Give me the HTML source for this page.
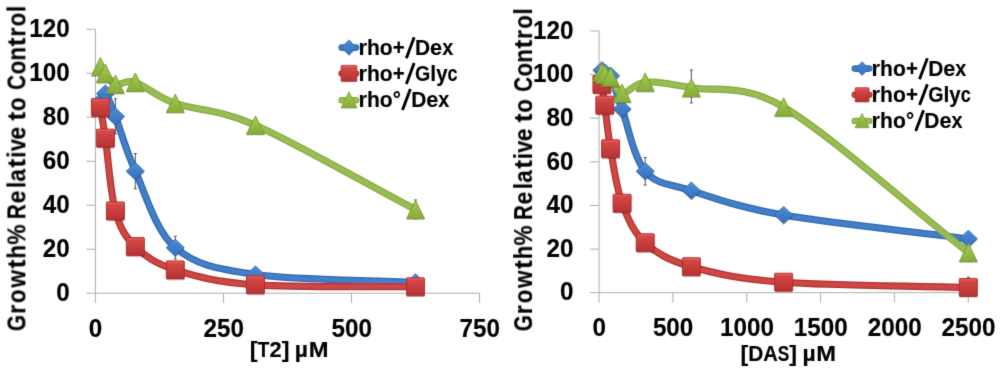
<!DOCTYPE html>
<html><head><meta charset="utf-8"><title>chart</title>
<style>
html,body{margin:0;padding:0;background:#fff;}
body{width:1000px;height:373px;overflow:hidden;}
svg{display:block;font-family:"Liberation Sans",sans-serif;}
text{stroke:#000;stroke-width:0.15px;}
</style></head><body>
<svg width="1000" height="373" viewBox="0 0 1000 373">
<defs>
<linearGradient id="gb" x1="0" y1="0" x2="0" y2="1"><stop offset="0" stop-color="#4a8ad6"/><stop offset="1" stop-color="#3570bb"/></linearGradient>
<linearGradient id="gr" x1="0" y1="0" x2="0" y2="1"><stop offset="0" stop-color="#da4b48"/><stop offset="1" stop-color="#b63131"/></linearGradient>
<linearGradient id="gg" x1="0" y1="0" x2="0" y2="1"><stop offset="0" stop-color="#a3cc52"/><stop offset="1" stop-color="#86ab38"/></linearGradient>
<filter id="soft" x="0" y="0" width="1000" height="373" filterUnits="userSpaceOnUse"><feConvolveMatrix order="5" kernelMatrix="0.00000 0.00003 0.00021 0.00003 0.00000 0.00003 0.01133 0.08373 0.01133 0.00003 0.00021 0.08373 0.61869 0.08373 0.00021 0.00003 0.01133 0.08373 0.01133 0.00003 0.00000 0.00003 0.00021 0.00003 0.00000" edgeMode="duplicate" preserveAlpha="false"/></filter>
</defs>
<rect width="1000" height="373" fill="#fff"/>
<g filter="url(#soft)">
<g stroke="#adadad" stroke-width="1" fill="none">
<path d="M95.40,29.30 V303.00"/>
<path d="M86.40,293.20 H479.55"/>
<path d="M86.40,249.22 H95.40"/>
<path d="M86.40,205.23 H95.40"/>
<path d="M86.40,161.25 H95.40"/>
<path d="M86.40,117.27 H95.40"/>
<path d="M86.40,73.28 H95.40"/>
<path d="M86.40,29.30 H95.40"/>
<path d="M223.45,293.20 V303.00"/>
<path d="M351.50,293.20 V303.00"/>
<path d="M479.55,293.20 V303.00"/>
</g>
<g transform="translate(69.80,300.90)" font-size="25.60" font-weight="bold"><text x="-13.49" y="0" textLength="13.49" lengthAdjust="spacingAndGlyphs">0</text></g>
<g transform="translate(69.80,256.92)" font-size="25.60" font-weight="bold"><text x="-26.97" y="0" textLength="13.49" lengthAdjust="spacingAndGlyphs">2</text><text x="-13.49" y="0" textLength="13.49" lengthAdjust="spacingAndGlyphs">0</text></g>
<g transform="translate(69.80,212.93)" font-size="25.60" font-weight="bold"><text x="-26.97" y="0" textLength="13.49" lengthAdjust="spacingAndGlyphs">4</text><text x="-13.49" y="0" textLength="13.49" lengthAdjust="spacingAndGlyphs">0</text></g>
<g transform="translate(69.80,168.95)" font-size="25.60" font-weight="bold"><text x="-26.97" y="0" textLength="13.49" lengthAdjust="spacingAndGlyphs">6</text><text x="-13.49" y="0" textLength="13.49" lengthAdjust="spacingAndGlyphs">0</text></g>
<g transform="translate(69.80,124.97)" font-size="25.60" font-weight="bold"><text x="-26.97" y="0" textLength="13.49" lengthAdjust="spacingAndGlyphs">8</text><text x="-13.49" y="0" textLength="13.49" lengthAdjust="spacingAndGlyphs">0</text></g>
<g transform="translate(69.80,80.98)" font-size="25.60" font-weight="bold"><text x="-40.46" y="0" textLength="13.49" lengthAdjust="spacingAndGlyphs">1</text><text x="-26.97" y="0" textLength="13.49" lengthAdjust="spacingAndGlyphs">0</text><text x="-13.49" y="0" textLength="13.49" lengthAdjust="spacingAndGlyphs">0</text></g>
<g transform="translate(69.80,37.00)" font-size="25.60" font-weight="bold"><text x="-40.46" y="0" textLength="13.49" lengthAdjust="spacingAndGlyphs">1</text><text x="-26.97" y="0" textLength="13.49" lengthAdjust="spacingAndGlyphs">2</text><text x="-13.49" y="0" textLength="13.49" lengthAdjust="spacingAndGlyphs">0</text></g>
<g transform="translate(95.60,336.50)" font-size="25.60" font-weight="bold"><text x="-6.74" y="0" textLength="13.49" lengthAdjust="spacingAndGlyphs">0</text></g>
<g transform="translate(223.65,336.50)" font-size="25.60" font-weight="bold"><text x="-20.23" y="0" textLength="13.49" lengthAdjust="spacingAndGlyphs">2</text><text x="-6.74" y="0" textLength="13.49" lengthAdjust="spacingAndGlyphs">5</text><text x="6.74" y="0" textLength="13.49" lengthAdjust="spacingAndGlyphs">0</text></g>
<g transform="translate(351.70,336.50)" font-size="25.60" font-weight="bold"><text x="-20.23" y="0" textLength="13.49" lengthAdjust="spacingAndGlyphs">5</text><text x="-6.74" y="0" textLength="13.49" lengthAdjust="spacingAndGlyphs">0</text><text x="6.74" y="0" textLength="13.49" lengthAdjust="spacingAndGlyphs">0</text></g>
<g transform="translate(479.75,336.50)" font-size="25.60" font-weight="bold"><text x="-20.23" y="0" textLength="13.49" lengthAdjust="spacingAndGlyphs">7</text><text x="-6.74" y="0" textLength="13.49" lengthAdjust="spacingAndGlyphs">5</text><text x="6.74" y="0" textLength="13.49" lengthAdjust="spacingAndGlyphs">0</text></g>
<g transform="translate(25.40,331.60) rotate(-90)" font-size="25.80" font-weight="bold"><text x="0.61" y="0" textLength="16.17" lengthAdjust="spacingAndGlyphs">G</text><text x="17.73" y="0" textLength="9.01" lengthAdjust="spacingAndGlyphs">r</text><text x="28.59" y="0" textLength="13.63" lengthAdjust="spacingAndGlyphs">o</text><text x="44.12" y="0" textLength="17.59" lengthAdjust="spacingAndGlyphs">w</text><text x="63.21" y="0" textLength="8.81" lengthAdjust="spacingAndGlyphs">t</text><text x="73.07" y="0" textLength="13.63" lengthAdjust="spacingAndGlyphs">h</text><text x="86.98" y="0" textLength="20.17" lengthAdjust="spacingAndGlyphs">%</text><text x="112.52" y="0" textLength="14.90" lengthAdjust="spacingAndGlyphs">R</text><text x="128.14" y="0" textLength="12.77" lengthAdjust="spacingAndGlyphs">e</text><text x="143.42" y="0" textLength="6.25" lengthAdjust="spacingAndGlyphs">l</text><text x="149.97" y="0" textLength="12.54" lengthAdjust="spacingAndGlyphs">a</text><text x="164.12" y="0" textLength="8.81" lengthAdjust="spacingAndGlyphs">t</text><text x="173.70" y="0" textLength="6.25" lengthAdjust="spacingAndGlyphs">i</text><text x="180.43" y="0" textLength="12.03" lengthAdjust="spacingAndGlyphs">v</text><text x="192.00" y="0" textLength="12.77" lengthAdjust="spacingAndGlyphs">e</text><text x="210.95" y="0" textLength="8.81" lengthAdjust="spacingAndGlyphs">t</text><text x="220.61" y="0" textLength="13.63" lengthAdjust="spacingAndGlyphs">o</text><text x="241.69" y="0" textLength="14.90" lengthAdjust="spacingAndGlyphs">C</text><text x="257.18" y="0" textLength="13.63" lengthAdjust="spacingAndGlyphs">o</text><text x="271.04" y="0" textLength="13.63" lengthAdjust="spacingAndGlyphs">n</text><text x="285.32" y="0" textLength="8.81" lengthAdjust="spacingAndGlyphs">t</text><text x="295.00" y="0" textLength="9.01" lengthAdjust="spacingAndGlyphs">r</text><text x="305.16" y="0" textLength="13.63" lengthAdjust="spacingAndGlyphs">o</text><text x="319.59" y="0" textLength="6.25" lengthAdjust="spacingAndGlyphs">l</text></g>
<g transform="translate(249.80,357.30)" font-size="21.60" font-weight="bold"><text x="0.00" y="0" textLength="7.80" lengthAdjust="spacingAndGlyphs">[</text><text x="7.80" y="0" textLength="11.88" lengthAdjust="spacingAndGlyphs">T</text><text x="19.68" y="0" textLength="12.17" lengthAdjust="spacingAndGlyphs">2</text><text x="31.85" y="0" textLength="7.80" lengthAdjust="spacingAndGlyphs">]</text><text x="45.07" y="0" textLength="13.20" lengthAdjust="spacingAndGlyphs">µ</text><text x="58.86" y="0" textLength="19.79" lengthAdjust="spacingAndGlyphs">M</text></g>
<path d="M100.40,101.87 C102.07,99.09 102.89,91.10 105.39,93.52 C107.88,95.93 110.88,104.75 115.38,116.39 C120.37,129.33 125.36,149.26 135.35,171.15 C145.34,193.03 155.28,230.45 175.30,247.68 C195.32,264.90 215.43,268.72 255.46,274.51 C295.50,280.30 362.17,279.79 415.52,282.42" fill="none" stroke="#3068ad" stroke-width="7.1" stroke-linecap="round" stroke-linejoin="round"/>
<path d="M100.40,101.87 C102.07,99.09 102.89,91.10 105.39,93.52 C107.88,95.93 110.88,104.75 115.38,116.39 C120.37,129.33 125.36,149.26 135.35,171.15 C145.34,193.03 155.28,230.45 175.30,247.68 C195.32,264.90 215.43,268.72 255.46,274.51 C295.50,280.30 362.17,279.79 415.52,282.42" fill="none" stroke="#437fc9" stroke-width="4.6" stroke-linecap="round" stroke-linejoin="round"/>
<path d="M115.38,98.79 V133.98 M113.88,98.79 H116.88 M113.88,133.98 H116.88" stroke="#404040" stroke-width="0.9" fill="none"/>
<path d="M135.35,153.55 V188.74 M133.85,153.55 H136.85 M133.85,188.74 H136.85" stroke="#404040" stroke-width="0.9" fill="none"/>
<path d="M175.30,236.24 V259.11 M173.80,236.24 H176.80 M173.80,259.11 H176.80" stroke="#404040" stroke-width="0.9" fill="none"/>
<path d="M100.40,93.32 L109.40,101.87 L100.40,110.42 L91.40,101.87 Z" fill="#000" fill-opacity="0.22" stroke="none" transform="translate(0.2,1.3)"/><path d="M100.40,93.32 L109.40,101.87 L100.40,110.42 L91.40,101.87 Z" fill="url(#gb)" stroke="#2c63a8" stroke-width="0.9" stroke-linejoin="round"/><path d="M93.00,101.87 L100.40,94.82 L107.80,101.87" fill="none" stroke="#5b98e0" stroke-opacity="0.7" stroke-width="0.9"/>
<path d="M105.39,84.97 L114.39,93.52 L105.39,102.07 L96.39,93.52 Z" fill="#000" fill-opacity="0.22" stroke="none" transform="translate(0.2,1.3)"/><path d="M105.39,84.97 L114.39,93.52 L105.39,102.07 L96.39,93.52 Z" fill="url(#gb)" stroke="#2c63a8" stroke-width="0.9" stroke-linejoin="round"/><path d="M97.99,93.52 L105.39,86.47 L112.79,93.52" fill="none" stroke="#5b98e0" stroke-opacity="0.7" stroke-width="0.9"/>
<path d="M115.38,107.84 L124.38,116.39 L115.38,124.94 L106.38,116.39 Z" fill="#000" fill-opacity="0.22" stroke="none" transform="translate(0.2,1.3)"/><path d="M115.38,107.84 L124.38,116.39 L115.38,124.94 L106.38,116.39 Z" fill="url(#gb)" stroke="#2c63a8" stroke-width="0.9" stroke-linejoin="round"/><path d="M107.98,116.39 L115.38,109.34 L122.78,116.39" fill="none" stroke="#5b98e0" stroke-opacity="0.7" stroke-width="0.9"/>
<path d="M135.35,162.60 L144.35,171.15 L135.35,179.70 L126.35,171.15 Z" fill="#000" fill-opacity="0.22" stroke="none" transform="translate(0.2,1.3)"/><path d="M135.35,162.60 L144.35,171.15 L135.35,179.70 L126.35,171.15 Z" fill="url(#gb)" stroke="#2c63a8" stroke-width="0.9" stroke-linejoin="round"/><path d="M127.95,171.15 L135.35,164.10 L142.75,171.15" fill="none" stroke="#5b98e0" stroke-opacity="0.7" stroke-width="0.9"/>
<path d="M175.30,239.13 L184.30,247.68 L175.30,256.23 L166.30,247.68 Z" fill="#000" fill-opacity="0.22" stroke="none" transform="translate(0.2,1.3)"/><path d="M175.30,239.13 L184.30,247.68 L175.30,256.23 L166.30,247.68 Z" fill="url(#gb)" stroke="#2c63a8" stroke-width="0.9" stroke-linejoin="round"/><path d="M167.90,247.68 L175.30,240.63 L182.70,247.68" fill="none" stroke="#5b98e0" stroke-opacity="0.7" stroke-width="0.9"/>
<path d="M255.46,265.96 L264.46,274.51 L255.46,283.06 L246.46,274.51 Z" fill="#000" fill-opacity="0.22" stroke="none" transform="translate(0.2,1.3)"/><path d="M255.46,265.96 L264.46,274.51 L255.46,283.06 L246.46,274.51 Z" fill="url(#gb)" stroke="#2c63a8" stroke-width="0.9" stroke-linejoin="round"/><path d="M248.06,274.51 L255.46,267.46 L262.86,274.51" fill="none" stroke="#5b98e0" stroke-opacity="0.7" stroke-width="0.9"/>
<path d="M415.52,273.87 L424.52,282.42 L415.52,290.97 L406.52,282.42 Z" fill="#000" fill-opacity="0.22" stroke="none" transform="translate(0.2,1.3)"/><path d="M415.52,273.87 L424.52,282.42 L415.52,290.97 L406.52,282.42 Z" fill="url(#gb)" stroke="#2c63a8" stroke-width="0.9" stroke-linejoin="round"/><path d="M408.12,282.42 L415.52,275.37 L422.92,282.42" fill="none" stroke="#5b98e0" stroke-opacity="0.7" stroke-width="0.9"/>
<path d="M100.40,107.59 C102.07,117.78 103.17,122.83 105.39,138.16 C107.88,155.39 110.38,192.88 115.38,210.95 C120.37,229.02 125.36,236.75 135.35,246.58 C145.34,256.40 155.28,263.51 175.30,269.89 C195.32,276.27 215.43,282.02 255.46,284.84 C295.50,287.67 362.17,286.16 415.52,286.82" fill="none" stroke="#b03030" stroke-width="7.1" stroke-linecap="round" stroke-linejoin="round"/>
<path d="M100.40,107.59 C102.07,117.78 103.17,122.83 105.39,138.16 C107.88,155.39 110.38,192.88 115.38,210.95 C120.37,229.02 125.36,236.75 135.35,246.58 C145.34,256.40 155.28,263.51 175.30,269.89 C195.32,276.27 215.43,282.02 255.46,284.84 C295.50,287.67 362.17,286.16 415.52,286.82" fill="none" stroke="#ce4644" stroke-width="4.6" stroke-linecap="round" stroke-linejoin="round"/>
<rect x="91.40" y="98.59" width="18.00" height="18.00" rx="0.8" fill="#000" fill-opacity="0.22" stroke="none" transform="translate(0.2,1.3)"/><rect x="91.40" y="98.59" width="18.00" height="18.00" rx="0.8" fill="url(#gr)" stroke="#a82b2b" stroke-width="0.9"/><path d="M92.60,99.89 H108.20" stroke="#ea6461" stroke-opacity="0.85" stroke-width="1.1" fill="none"/>
<rect x="96.39" y="129.16" width="18.00" height="18.00" rx="0.8" fill="#000" fill-opacity="0.22" stroke="none" transform="translate(0.2,1.3)"/><rect x="96.39" y="129.16" width="18.00" height="18.00" rx="0.8" fill="url(#gr)" stroke="#a82b2b" stroke-width="0.9"/><path d="M97.59,130.46 H113.19" stroke="#ea6461" stroke-opacity="0.85" stroke-width="1.1" fill="none"/>
<rect x="106.38" y="201.95" width="18.00" height="18.00" rx="0.8" fill="#000" fill-opacity="0.22" stroke="none" transform="translate(0.2,1.3)"/><rect x="106.38" y="201.95" width="18.00" height="18.00" rx="0.8" fill="url(#gr)" stroke="#a82b2b" stroke-width="0.9"/><path d="M107.58,203.25 H123.18" stroke="#ea6461" stroke-opacity="0.85" stroke-width="1.1" fill="none"/>
<rect x="126.35" y="237.58" width="18.00" height="18.00" rx="0.8" fill="#000" fill-opacity="0.22" stroke="none" transform="translate(0.2,1.3)"/><rect x="126.35" y="237.58" width="18.00" height="18.00" rx="0.8" fill="url(#gr)" stroke="#a82b2b" stroke-width="0.9"/><path d="M127.55,238.88 H143.15" stroke="#ea6461" stroke-opacity="0.85" stroke-width="1.1" fill="none"/>
<rect x="166.30" y="260.89" width="18.00" height="18.00" rx="0.8" fill="#000" fill-opacity="0.22" stroke="none" transform="translate(0.2,1.3)"/><rect x="166.30" y="260.89" width="18.00" height="18.00" rx="0.8" fill="url(#gr)" stroke="#a82b2b" stroke-width="0.9"/><path d="M167.50,262.19 H183.10" stroke="#ea6461" stroke-opacity="0.85" stroke-width="1.1" fill="none"/>
<rect x="246.46" y="275.84" width="18.00" height="18.00" rx="0.8" fill="#000" fill-opacity="0.22" stroke="none" transform="translate(0.2,1.3)"/><rect x="246.46" y="275.84" width="18.00" height="18.00" rx="0.8" fill="url(#gr)" stroke="#a82b2b" stroke-width="0.9"/><path d="M247.66,277.14 H263.26" stroke="#ea6461" stroke-opacity="0.85" stroke-width="1.1" fill="none"/>
<rect x="406.52" y="277.82" width="18.00" height="18.00" rx="0.8" fill="#000" fill-opacity="0.22" stroke="none" transform="translate(0.2,1.3)"/><rect x="406.52" y="277.82" width="18.00" height="18.00" rx="0.8" fill="url(#gr)" stroke="#a82b2b" stroke-width="0.9"/><path d="M407.72,279.12 H423.32" stroke="#ea6461" stroke-opacity="0.85" stroke-width="1.1" fill="none"/>
<path d="M100.40,66.69 C102.07,68.96 102.89,70.57 105.39,73.50 C107.88,76.44 110.38,82.81 115.38,84.28 C120.37,85.75 125.79,79.25 135.35,82.30 C145.34,85.49 155.28,96.26 175.30,103.41 C195.32,110.56 217.48,108.39 255.46,125.18 C295.50,142.89 362.17,181.48 415.52,209.63" fill="none" stroke="#86aa3d" stroke-width="7.1" stroke-linecap="round" stroke-linejoin="round"/>
<path d="M100.40,66.69 C102.07,68.96 102.89,70.57 105.39,73.50 C107.88,76.44 110.38,82.81 115.38,84.28 C120.37,85.75 125.79,79.25 135.35,82.30 C145.34,85.49 155.28,96.26 175.30,103.41 C195.32,110.56 217.48,108.39 255.46,125.18 C295.50,142.89 362.17,181.48 415.52,209.63" fill="none" stroke="#9abc55" stroke-width="4.6" stroke-linecap="round" stroke-linejoin="round"/>
<path d="M415.52,199.96 V218.87 M414.02,199.96 H417.02 M414.02,218.87 H417.02" stroke="#404040" stroke-width="0.9" fill="none"/>
<path d="M100.40,57.39 L109.40,75.79 L91.40,75.79 Z" fill="#000" fill-opacity="0.22" stroke="none" transform="translate(0.2,1.3)"/><path d="M100.40,57.39 L109.40,75.79 L91.40,75.79 Z" fill="url(#gg)" stroke="#76982e" stroke-width="0.9" stroke-linejoin="round"/>
<path d="M105.39,64.20 L114.39,82.60 L96.39,82.60 Z" fill="#000" fill-opacity="0.22" stroke="none" transform="translate(0.2,1.3)"/><path d="M105.39,64.20 L114.39,82.60 L96.39,82.60 Z" fill="url(#gg)" stroke="#76982e" stroke-width="0.9" stroke-linejoin="round"/>
<path d="M115.38,74.98 L124.38,93.38 L106.38,93.38 Z" fill="#000" fill-opacity="0.22" stroke="none" transform="translate(0.2,1.3)"/><path d="M115.38,74.98 L124.38,93.38 L106.38,93.38 Z" fill="url(#gg)" stroke="#76982e" stroke-width="0.9" stroke-linejoin="round"/>
<path d="M135.35,73.00 L144.35,91.40 L126.35,91.40 Z" fill="#000" fill-opacity="0.22" stroke="none" transform="translate(0.2,1.3)"/><path d="M135.35,73.00 L144.35,91.40 L126.35,91.40 Z" fill="url(#gg)" stroke="#76982e" stroke-width="0.9" stroke-linejoin="round"/>
<path d="M175.30,94.11 L184.30,112.51 L166.30,112.51 Z" fill="#000" fill-opacity="0.22" stroke="none" transform="translate(0.2,1.3)"/><path d="M175.30,94.11 L184.30,112.51 L166.30,112.51 Z" fill="url(#gg)" stroke="#76982e" stroke-width="0.9" stroke-linejoin="round"/>
<path d="M255.46,115.88 L264.46,134.28 L246.46,134.28 Z" fill="#000" fill-opacity="0.22" stroke="none" transform="translate(0.2,1.3)"/><path d="M255.46,115.88 L264.46,134.28 L246.46,134.28 Z" fill="url(#gg)" stroke="#76982e" stroke-width="0.9" stroke-linejoin="round"/>
<path d="M415.52,200.33 L424.52,218.73 L406.52,218.73 Z" fill="#000" fill-opacity="0.22" stroke="none" transform="translate(0.2,1.3)"/><path d="M415.52,200.33 L424.52,218.73 L406.52,218.73 Z" fill="url(#gg)" stroke="#76982e" stroke-width="0.9" stroke-linejoin="round"/>
<path d="M341.70,47.60 H356.00" stroke="#3068ad" stroke-width="6.6" stroke-linecap="round"/>
<path d="M341.70,47.60 H356.00" stroke="#437fc9" stroke-width="4.6" stroke-linecap="round"/>
<path d="M349.00,39.90 L356.60,47.60 L349.00,55.30 L341.40,47.60 Z" fill="url(#gb)" stroke="#2c63a8" stroke-width="0.7"/>
<g transform="translate(358.40,54.90)" font-size="22.00" font-weight="bold"><text x="0.00" y="0" textLength="8.52" lengthAdjust="spacingAndGlyphs">r</text><text x="8.52" y="0" textLength="12.89" lengthAdjust="spacingAndGlyphs">h</text><text x="21.41" y="0" textLength="12.89" lengthAdjust="spacingAndGlyphs">o</text><text x="34.30" y="0" textLength="11.95" lengthAdjust="spacingAndGlyphs">+</text><path d="M47.95,3.30 L55.77,-17.60" stroke="#000" stroke-width="2.90" fill="none"/><text x="56.57" y="0" textLength="15.12" lengthAdjust="spacingAndGlyphs">D</text><text x="71.69" y="0" textLength="12.07" lengthAdjust="spacingAndGlyphs">e</text><text x="83.76" y="0" textLength="11.02" lengthAdjust="spacingAndGlyphs">x</text></g>
<path d="M341.70,73.50 H356.00" stroke="#b03030" stroke-width="6.6" stroke-linecap="round"/>
<path d="M341.70,73.50 H356.00" stroke="#ce4644" stroke-width="4.6" stroke-linecap="round"/>
<rect x="341.10" y="65.40" width="15.80" height="16.20" rx="0.8" fill="url(#gr)" stroke="#a82b2b" stroke-width="0.7"/>
<path d="M342.20,66.60 H355.80" stroke="#ea6461" stroke-opacity="0.85" stroke-width="1" fill="none"/>
<g transform="translate(358.40,80.60)" font-size="22.00" font-weight="bold"><text x="0.00" y="0" textLength="8.52" lengthAdjust="spacingAndGlyphs">r</text><text x="8.52" y="0" textLength="12.89" lengthAdjust="spacingAndGlyphs">h</text><text x="21.41" y="0" textLength="12.89" lengthAdjust="spacingAndGlyphs">o</text><text x="34.30" y="0" textLength="11.95" lengthAdjust="spacingAndGlyphs">+</text><path d="M47.95,3.30 L55.77,-17.60" stroke="#000" stroke-width="2.90" fill="none"/><text x="56.57" y="0" textLength="15.29" lengthAdjust="spacingAndGlyphs">G</text><text x="71.86" y="0" textLength="5.90" lengthAdjust="spacingAndGlyphs">l</text><text x="77.76" y="0" textLength="11.38" lengthAdjust="spacingAndGlyphs">y</text><text x="89.14" y="0" textLength="10.03" lengthAdjust="spacingAndGlyphs">c</text></g>
<path d="M341.70,100.30 H356.00" stroke="#86aa3d" stroke-width="6.6" stroke-linecap="round"/>
<path d="M341.70,100.30 H356.00" stroke="#9abc55" stroke-width="4.6" stroke-linecap="round"/>
<path d="M349.00,91.70 L357.00,108.00 L341.00,108.00 Z" fill="url(#gg)" stroke="#76982e" stroke-width="0.7"/>
<g transform="translate(358.40,106.70)" font-size="22.00" font-weight="bold"><text x="0.00" y="0" textLength="8.52" lengthAdjust="spacingAndGlyphs">r</text><text x="8.52" y="0" textLength="12.89" lengthAdjust="spacingAndGlyphs">h</text><text x="21.41" y="0" textLength="12.89" lengthAdjust="spacingAndGlyphs">o</text><text x="34.30" y="0" textLength="8.14" lengthAdjust="spacingAndGlyphs">°</text><path d="M44.13,3.30 L51.95,-17.60" stroke="#000" stroke-width="2.90" fill="none"/><text x="52.75" y="0" textLength="15.12" lengthAdjust="spacingAndGlyphs">D</text><text x="67.87" y="0" textLength="12.07" lengthAdjust="spacingAndGlyphs">e</text><text x="79.94" y="0" textLength="11.02" lengthAdjust="spacingAndGlyphs">x</text></g>
<g stroke="#adadad" stroke-width="1" fill="none">
<path d="M599.05,31.00 V302.50"/>
<path d="M590.05,292.70 H968.30"/>
<path d="M590.05,249.08 H599.05"/>
<path d="M590.05,205.47 H599.05"/>
<path d="M590.05,161.85 H599.05"/>
<path d="M590.05,118.23 H599.05"/>
<path d="M590.05,74.62 H599.05"/>
<path d="M590.05,31.00 H599.05"/>
<path d="M672.90,292.70 V302.50"/>
<path d="M746.75,292.70 V302.50"/>
<path d="M820.60,292.70 V302.50"/>
<path d="M894.45,292.70 V302.50"/>
<path d="M968.30,292.70 V302.50"/>
</g>
<g transform="translate(573.45,300.40)" font-size="25.60" font-weight="bold"><text x="-13.49" y="0" textLength="13.49" lengthAdjust="spacingAndGlyphs">0</text></g>
<g transform="translate(573.45,256.78)" font-size="25.60" font-weight="bold"><text x="-26.97" y="0" textLength="13.49" lengthAdjust="spacingAndGlyphs">2</text><text x="-13.49" y="0" textLength="13.49" lengthAdjust="spacingAndGlyphs">0</text></g>
<g transform="translate(573.45,213.17)" font-size="25.60" font-weight="bold"><text x="-26.97" y="0" textLength="13.49" lengthAdjust="spacingAndGlyphs">4</text><text x="-13.49" y="0" textLength="13.49" lengthAdjust="spacingAndGlyphs">0</text></g>
<g transform="translate(573.45,169.55)" font-size="25.60" font-weight="bold"><text x="-26.97" y="0" textLength="13.49" lengthAdjust="spacingAndGlyphs">6</text><text x="-13.49" y="0" textLength="13.49" lengthAdjust="spacingAndGlyphs">0</text></g>
<g transform="translate(573.45,125.93)" font-size="25.60" font-weight="bold"><text x="-26.97" y="0" textLength="13.49" lengthAdjust="spacingAndGlyphs">8</text><text x="-13.49" y="0" textLength="13.49" lengthAdjust="spacingAndGlyphs">0</text></g>
<g transform="translate(573.45,82.32)" font-size="25.60" font-weight="bold"><text x="-40.46" y="0" textLength="13.49" lengthAdjust="spacingAndGlyphs">1</text><text x="-26.97" y="0" textLength="13.49" lengthAdjust="spacingAndGlyphs">0</text><text x="-13.49" y="0" textLength="13.49" lengthAdjust="spacingAndGlyphs">0</text></g>
<g transform="translate(573.45,38.70)" font-size="25.60" font-weight="bold"><text x="-40.46" y="0" textLength="13.49" lengthAdjust="spacingAndGlyphs">1</text><text x="-26.97" y="0" textLength="13.49" lengthAdjust="spacingAndGlyphs">2</text><text x="-13.49" y="0" textLength="13.49" lengthAdjust="spacingAndGlyphs">0</text></g>
<g transform="translate(599.25,336.00)" font-size="25.60" font-weight="bold"><text x="-6.74" y="0" textLength="13.49" lengthAdjust="spacingAndGlyphs">0</text></g>
<g transform="translate(673.10,336.00)" font-size="25.60" font-weight="bold"><text x="-20.23" y="0" textLength="13.49" lengthAdjust="spacingAndGlyphs">5</text><text x="-6.74" y="0" textLength="13.49" lengthAdjust="spacingAndGlyphs">0</text><text x="6.74" y="0" textLength="13.49" lengthAdjust="spacingAndGlyphs">0</text></g>
<g transform="translate(746.95,336.00)" font-size="25.60" font-weight="bold"><text x="-26.97" y="0" textLength="13.49" lengthAdjust="spacingAndGlyphs">1</text><text x="-13.49" y="0" textLength="13.49" lengthAdjust="spacingAndGlyphs">0</text><text x="0.00" y="0" textLength="13.49" lengthAdjust="spacingAndGlyphs">0</text><text x="13.49" y="0" textLength="13.49" lengthAdjust="spacingAndGlyphs">0</text></g>
<g transform="translate(820.80,336.00)" font-size="25.60" font-weight="bold"><text x="-26.97" y="0" textLength="13.49" lengthAdjust="spacingAndGlyphs">1</text><text x="-13.49" y="0" textLength="13.49" lengthAdjust="spacingAndGlyphs">5</text><text x="0.00" y="0" textLength="13.49" lengthAdjust="spacingAndGlyphs">0</text><text x="13.49" y="0" textLength="13.49" lengthAdjust="spacingAndGlyphs">0</text></g>
<g transform="translate(894.65,336.00)" font-size="25.60" font-weight="bold"><text x="-26.97" y="0" textLength="13.49" lengthAdjust="spacingAndGlyphs">2</text><text x="-13.49" y="0" textLength="13.49" lengthAdjust="spacingAndGlyphs">0</text><text x="0.00" y="0" textLength="13.49" lengthAdjust="spacingAndGlyphs">0</text><text x="13.49" y="0" textLength="13.49" lengthAdjust="spacingAndGlyphs">0</text></g>
<g transform="translate(968.50,336.00)" font-size="25.60" font-weight="bold"><text x="-26.97" y="0" textLength="13.49" lengthAdjust="spacingAndGlyphs">2</text><text x="-13.49" y="0" textLength="13.49" lengthAdjust="spacingAndGlyphs">5</text><text x="0.00" y="0" textLength="13.49" lengthAdjust="spacingAndGlyphs">0</text><text x="13.49" y="0" textLength="13.49" lengthAdjust="spacingAndGlyphs">0</text></g>
<g transform="translate(532.10,331.70) rotate(-90)" font-size="25.60" font-weight="bold"><text x="0.60" y="0" textLength="16.05" lengthAdjust="spacingAndGlyphs">G</text><text x="17.60" y="0" textLength="8.95" lengthAdjust="spacingAndGlyphs">r</text><text x="28.39" y="0" textLength="13.53" lengthAdjust="spacingAndGlyphs">o</text><text x="43.80" y="0" textLength="17.46" lengthAdjust="spacingAndGlyphs">w</text><text x="62.75" y="0" textLength="8.75" lengthAdjust="spacingAndGlyphs">t</text><text x="72.54" y="0" textLength="13.53" lengthAdjust="spacingAndGlyphs">h</text><text x="86.35" y="0" textLength="20.03" lengthAdjust="spacingAndGlyphs">%</text><text x="111.70" y="0" textLength="14.79" lengthAdjust="spacingAndGlyphs">R</text><text x="127.20" y="0" textLength="12.68" lengthAdjust="spacingAndGlyphs">e</text><text x="142.38" y="0" textLength="6.20" lengthAdjust="spacingAndGlyphs">l</text><text x="148.89" y="0" textLength="12.45" lengthAdjust="spacingAndGlyphs">a</text><text x="162.93" y="0" textLength="8.75" lengthAdjust="spacingAndGlyphs">t</text><text x="172.44" y="0" textLength="6.20" lengthAdjust="spacingAndGlyphs">i</text><text x="179.12" y="0" textLength="11.95" lengthAdjust="spacingAndGlyphs">v</text><text x="190.60" y="0" textLength="12.68" lengthAdjust="spacingAndGlyphs">e</text><text x="209.41" y="0" textLength="8.75" lengthAdjust="spacingAndGlyphs">t</text><text x="218.99" y="0" textLength="13.53" lengthAdjust="spacingAndGlyphs">o</text><text x="239.93" y="0" textLength="14.79" lengthAdjust="spacingAndGlyphs">C</text><text x="255.30" y="0" textLength="13.53" lengthAdjust="spacingAndGlyphs">o</text><text x="269.06" y="0" textLength="13.53" lengthAdjust="spacingAndGlyphs">n</text><text x="283.23" y="0" textLength="8.75" lengthAdjust="spacingAndGlyphs">t</text><text x="292.84" y="0" textLength="8.95" lengthAdjust="spacingAndGlyphs">r</text><text x="302.93" y="0" textLength="13.53" lengthAdjust="spacingAndGlyphs">o</text><text x="317.26" y="0" textLength="6.20" lengthAdjust="spacingAndGlyphs">l</text></g>
<g transform="translate(740.40,361.40)" font-size="21.60" font-weight="bold"><text x="0.00" y="0" textLength="7.80" lengthAdjust="spacingAndGlyphs">[</text><text x="7.80" y="0" textLength="15.12" lengthAdjust="spacingAndGlyphs">D</text><text x="22.92" y="0" textLength="14.54" lengthAdjust="spacingAndGlyphs">A</text><text x="37.38" y="0" textLength="11.53" lengthAdjust="spacingAndGlyphs">S</text><text x="48.82" y="0" textLength="7.80" lengthAdjust="spacingAndGlyphs">]</text><text x="62.04" y="0" textLength="13.20" lengthAdjust="spacingAndGlyphs">µ</text><text x="75.83" y="0" textLength="19.79" lengthAdjust="spacingAndGlyphs">M</text></g>
<path d="M601.93,70.25 C602.89,70.98 603.37,71.53 604.81,72.44 C606.25,73.34 609.16,72.71 610.57,75.71 C613.45,81.81 616.32,93.15 622.09,109.07 C627.86,124.99 633.66,157.63 645.21,171.23 C656.75,184.82 668.28,183.33 691.36,190.64 C714.44,197.94 737.52,207.03 783.67,215.06 C829.83,223.10 906.76,230.91 968.30,238.83" fill="none" stroke="#3068ad" stroke-width="7.1" stroke-linecap="round" stroke-linejoin="round"/>
<path d="M601.93,70.25 C602.89,70.98 603.37,71.53 604.81,72.44 C606.25,73.34 609.16,72.71 610.57,75.71 C613.45,81.81 616.32,93.15 622.09,109.07 C627.86,124.99 633.66,157.63 645.21,171.23 C656.75,184.82 668.28,183.33 691.36,190.64 C714.44,197.94 737.52,207.03 783.67,215.06 C829.83,223.10 906.76,230.91 968.30,238.83" fill="none" stroke="#437fc9" stroke-width="4.6" stroke-linecap="round" stroke-linejoin="round"/>
<path d="M645.21,157.49 V184.97 M643.71,157.49 H646.71 M643.71,184.97 H646.71" stroke="#404040" stroke-width="0.9" fill="none"/>
<path d="M601.93,61.70 L610.93,70.25 L601.93,78.80 L592.93,70.25 Z" fill="#000" fill-opacity="0.22" stroke="none" transform="translate(0.2,1.3)"/><path d="M601.93,61.70 L610.93,70.25 L601.93,78.80 L592.93,70.25 Z" fill="url(#gb)" stroke="#2c63a8" stroke-width="0.9" stroke-linejoin="round"/><path d="M594.53,70.25 L601.93,63.20 L609.33,70.25" fill="none" stroke="#5b98e0" stroke-opacity="0.7" stroke-width="0.9"/>
<path d="M604.81,63.89 L613.81,72.44 L604.81,80.99 L595.81,72.44 Z" fill="#000" fill-opacity="0.22" stroke="none" transform="translate(0.2,1.3)"/><path d="M604.81,63.89 L613.81,72.44 L604.81,80.99 L595.81,72.44 Z" fill="url(#gb)" stroke="#2c63a8" stroke-width="0.9" stroke-linejoin="round"/><path d="M597.41,72.44 L604.81,65.39 L612.21,72.44" fill="none" stroke="#5b98e0" stroke-opacity="0.7" stroke-width="0.9"/>
<path d="M610.57,67.16 L619.57,75.71 L610.57,84.26 L601.57,75.71 Z" fill="#000" fill-opacity="0.22" stroke="none" transform="translate(0.2,1.3)"/><path d="M610.57,67.16 L619.57,75.71 L610.57,84.26 L601.57,75.71 Z" fill="url(#gb)" stroke="#2c63a8" stroke-width="0.9" stroke-linejoin="round"/><path d="M603.17,75.71 L610.57,68.66 L617.97,75.71" fill="none" stroke="#5b98e0" stroke-opacity="0.7" stroke-width="0.9"/>
<path d="M622.09,100.52 L631.09,109.07 L622.09,117.62 L613.09,109.07 Z" fill="#000" fill-opacity="0.22" stroke="none" transform="translate(0.2,1.3)"/><path d="M622.09,100.52 L631.09,109.07 L622.09,117.62 L613.09,109.07 Z" fill="url(#gb)" stroke="#2c63a8" stroke-width="0.9" stroke-linejoin="round"/><path d="M614.69,109.07 L622.09,102.02 L629.49,109.07" fill="none" stroke="#5b98e0" stroke-opacity="0.7" stroke-width="0.9"/>
<path d="M645.21,162.68 L654.21,171.23 L645.21,179.78 L636.21,171.23 Z" fill="#000" fill-opacity="0.22" stroke="none" transform="translate(0.2,1.3)"/><path d="M645.21,162.68 L654.21,171.23 L645.21,179.78 L636.21,171.23 Z" fill="url(#gb)" stroke="#2c63a8" stroke-width="0.9" stroke-linejoin="round"/><path d="M637.81,171.23 L645.21,164.18 L652.61,171.23" fill="none" stroke="#5b98e0" stroke-opacity="0.7" stroke-width="0.9"/>
<path d="M691.36,182.09 L700.36,190.64 L691.36,199.19 L682.36,190.64 Z" fill="#000" fill-opacity="0.22" stroke="none" transform="translate(0.2,1.3)"/><path d="M691.36,182.09 L700.36,190.64 L691.36,199.19 L682.36,190.64 Z" fill="url(#gb)" stroke="#2c63a8" stroke-width="0.9" stroke-linejoin="round"/><path d="M683.96,190.64 L691.36,183.59 L698.76,190.64" fill="none" stroke="#5b98e0" stroke-opacity="0.7" stroke-width="0.9"/>
<path d="M783.67,206.51 L792.67,215.06 L783.67,223.61 L774.67,215.06 Z" fill="#000" fill-opacity="0.22" stroke="none" transform="translate(0.2,1.3)"/><path d="M783.67,206.51 L792.67,215.06 L783.67,223.61 L774.67,215.06 Z" fill="url(#gb)" stroke="#2c63a8" stroke-width="0.9" stroke-linejoin="round"/><path d="M776.27,215.06 L783.67,208.01 L791.07,215.06" fill="none" stroke="#5b98e0" stroke-opacity="0.7" stroke-width="0.9"/>
<path d="M968.30,230.28 L977.30,238.83 L968.30,247.38 L959.30,238.83 Z" fill="#000" fill-opacity="0.22" stroke="none" transform="translate(0.2,1.3)"/><path d="M968.30,230.28 L977.30,238.83 L968.30,247.38 L959.30,238.83 Z" fill="url(#gb)" stroke="#2c63a8" stroke-width="0.9" stroke-linejoin="round"/><path d="M960.90,238.83 L968.30,231.78 L975.70,238.83" fill="none" stroke="#5b98e0" stroke-opacity="0.7" stroke-width="0.9"/>
<path d="M601.93,84.43 C602.89,91.34 603.42,94.78 604.81,105.15 C606.25,115.87 607.69,132.41 610.57,148.76 C613.45,165.12 616.32,187.62 622.09,203.29 C627.86,218.95 633.66,232.18 645.21,242.76 C656.75,253.34 668.28,260.17 691.36,266.75 C714.44,273.33 737.52,278.78 783.67,282.23 C829.83,285.68 906.76,285.72 968.30,287.47" fill="none" stroke="#b03030" stroke-width="7.1" stroke-linecap="round" stroke-linejoin="round"/>
<path d="M601.93,84.43 C602.89,91.34 603.42,94.78 604.81,105.15 C606.25,115.87 607.69,132.41 610.57,148.76 C613.45,165.12 616.32,187.62 622.09,203.29 C627.86,218.95 633.66,232.18 645.21,242.76 C656.75,253.34 668.28,260.17 691.36,266.75 C714.44,273.33 737.52,278.78 783.67,282.23 C829.83,285.68 906.76,285.72 968.30,287.47" fill="none" stroke="#ce4644" stroke-width="4.6" stroke-linecap="round" stroke-linejoin="round"/>
<path d="M968.30,277.22 V287.47 M966.80,277.22 H969.80 M966.80,287.47 H969.80" stroke="#404040" stroke-width="0.9" fill="none"/>
<rect x="592.93" y="75.43" width="18.00" height="18.00" rx="0.8" fill="#000" fill-opacity="0.22" stroke="none" transform="translate(0.2,1.3)"/><rect x="592.93" y="75.43" width="18.00" height="18.00" rx="0.8" fill="url(#gr)" stroke="#a82b2b" stroke-width="0.9"/><path d="M594.13,76.73 H609.73" stroke="#ea6461" stroke-opacity="0.85" stroke-width="1.1" fill="none"/>
<rect x="595.81" y="96.15" width="18.00" height="18.00" rx="0.8" fill="#000" fill-opacity="0.22" stroke="none" transform="translate(0.2,1.3)"/><rect x="595.81" y="96.15" width="18.00" height="18.00" rx="0.8" fill="url(#gr)" stroke="#a82b2b" stroke-width="0.9"/><path d="M597.01,97.45 H612.61" stroke="#ea6461" stroke-opacity="0.85" stroke-width="1.1" fill="none"/>
<rect x="601.57" y="139.76" width="18.00" height="18.00" rx="0.8" fill="#000" fill-opacity="0.22" stroke="none" transform="translate(0.2,1.3)"/><rect x="601.57" y="139.76" width="18.00" height="18.00" rx="0.8" fill="url(#gr)" stroke="#a82b2b" stroke-width="0.9"/><path d="M602.77,141.06 H618.37" stroke="#ea6461" stroke-opacity="0.85" stroke-width="1.1" fill="none"/>
<rect x="613.09" y="194.29" width="18.00" height="18.00" rx="0.8" fill="#000" fill-opacity="0.22" stroke="none" transform="translate(0.2,1.3)"/><rect x="613.09" y="194.29" width="18.00" height="18.00" rx="0.8" fill="url(#gr)" stroke="#a82b2b" stroke-width="0.9"/><path d="M614.29,195.59 H629.89" stroke="#ea6461" stroke-opacity="0.85" stroke-width="1.1" fill="none"/>
<rect x="636.21" y="233.76" width="18.00" height="18.00" rx="0.8" fill="#000" fill-opacity="0.22" stroke="none" transform="translate(0.2,1.3)"/><rect x="636.21" y="233.76" width="18.00" height="18.00" rx="0.8" fill="url(#gr)" stroke="#a82b2b" stroke-width="0.9"/><path d="M637.41,235.06 H653.01" stroke="#ea6461" stroke-opacity="0.85" stroke-width="1.1" fill="none"/>
<rect x="682.36" y="257.75" width="18.00" height="18.00" rx="0.8" fill="#000" fill-opacity="0.22" stroke="none" transform="translate(0.2,1.3)"/><rect x="682.36" y="257.75" width="18.00" height="18.00" rx="0.8" fill="url(#gr)" stroke="#a82b2b" stroke-width="0.9"/><path d="M683.56,259.05 H699.16" stroke="#ea6461" stroke-opacity="0.85" stroke-width="1.1" fill="none"/>
<rect x="774.67" y="273.23" width="18.00" height="18.00" rx="0.8" fill="#000" fill-opacity="0.22" stroke="none" transform="translate(0.2,1.3)"/><rect x="774.67" y="273.23" width="18.00" height="18.00" rx="0.8" fill="url(#gr)" stroke="#a82b2b" stroke-width="0.9"/><path d="M775.88,274.53 H791.47" stroke="#ea6461" stroke-opacity="0.85" stroke-width="1.1" fill="none"/>
<rect x="959.30" y="278.47" width="18.00" height="18.00" rx="0.8" fill="#000" fill-opacity="0.22" stroke="none" transform="translate(0.2,1.3)"/><rect x="959.30" y="278.47" width="18.00" height="18.00" rx="0.8" fill="url(#gr)" stroke="#a82b2b" stroke-width="0.9"/><path d="M960.50,279.77 H976.10" stroke="#ea6461" stroke-opacity="0.85" stroke-width="1.1" fill="none"/>
<path d="M601.93,72.44 C602.89,73.09 603.37,73.60 604.81,74.40 C606.25,75.20 608.41,74.86 610.57,77.23 C613.45,80.40 616.32,92.54 622.09,93.37 C627.86,94.21 633.66,83.19 645.21,82.25 C656.75,81.30 668.49,83.59 691.36,87.70 C714.44,91.85 743.15,82.98 783.67,107.11 C829.83,134.59 906.76,204.09 968.30,252.57" fill="none" stroke="#86aa3d" stroke-width="7.1" stroke-linecap="round" stroke-linejoin="round"/>
<path d="M601.93,72.44 C602.89,73.09 603.37,73.60 604.81,74.40 C606.25,75.20 608.41,74.86 610.57,77.23 C613.45,80.40 616.32,92.54 622.09,93.37 C627.86,94.21 633.66,83.19 645.21,82.25 C656.75,81.30 668.49,83.59 691.36,87.70 C714.44,91.85 743.15,82.98 783.67,107.11 C829.83,134.59 906.76,204.09 968.30,252.57" fill="none" stroke="#9abc55" stroke-width="4.6" stroke-linecap="round" stroke-linejoin="round"/>
<path d="M691.36,70.04 V102.97 M689.86,70.04 H692.86 M689.86,102.97 H692.86" stroke="#404040" stroke-width="0.9" fill="none"/>
<path d="M601.93,63.14 L610.93,81.54 L592.93,81.54 Z" fill="#000" fill-opacity="0.22" stroke="none" transform="translate(0.2,1.3)"/><path d="M601.93,63.14 L610.93,81.54 L592.93,81.54 Z" fill="url(#gg)" stroke="#76982e" stroke-width="0.9" stroke-linejoin="round"/>
<path d="M604.81,65.10 L613.81,83.50 L595.81,83.50 Z" fill="#000" fill-opacity="0.22" stroke="none" transform="translate(0.2,1.3)"/><path d="M604.81,65.10 L613.81,83.50 L595.81,83.50 Z" fill="url(#gg)" stroke="#76982e" stroke-width="0.9" stroke-linejoin="round"/>
<path d="M610.57,67.93 L619.57,86.33 L601.57,86.33 Z" fill="#000" fill-opacity="0.22" stroke="none" transform="translate(0.2,1.3)"/><path d="M610.57,67.93 L619.57,86.33 L601.57,86.33 Z" fill="url(#gg)" stroke="#76982e" stroke-width="0.9" stroke-linejoin="round"/>
<path d="M622.09,84.07 L631.09,102.47 L613.09,102.47 Z" fill="#000" fill-opacity="0.22" stroke="none" transform="translate(0.2,1.3)"/><path d="M622.09,84.07 L631.09,102.47 L613.09,102.47 Z" fill="url(#gg)" stroke="#76982e" stroke-width="0.9" stroke-linejoin="round"/>
<path d="M645.21,72.95 L654.21,91.35 L636.21,91.35 Z" fill="#000" fill-opacity="0.22" stroke="none" transform="translate(0.2,1.3)"/><path d="M645.21,72.95 L654.21,91.35 L636.21,91.35 Z" fill="url(#gg)" stroke="#76982e" stroke-width="0.9" stroke-linejoin="round"/>
<path d="M691.36,78.40 L700.36,96.80 L682.36,96.80 Z" fill="#000" fill-opacity="0.22" stroke="none" transform="translate(0.2,1.3)"/><path d="M691.36,78.40 L700.36,96.80 L682.36,96.80 Z" fill="url(#gg)" stroke="#76982e" stroke-width="0.9" stroke-linejoin="round"/>
<path d="M783.67,97.81 L792.67,116.21 L774.67,116.21 Z" fill="#000" fill-opacity="0.22" stroke="none" transform="translate(0.2,1.3)"/><path d="M783.67,97.81 L792.67,116.21 L774.67,116.21 Z" fill="url(#gg)" stroke="#76982e" stroke-width="0.9" stroke-linejoin="round"/>
<path d="M968.30,243.27 L977.30,261.67 L959.30,261.67 Z" fill="#000" fill-opacity="0.22" stroke="none" transform="translate(0.2,1.3)"/><path d="M968.30,243.27 L977.30,261.67 L959.30,261.67 Z" fill="url(#gg)" stroke="#76982e" stroke-width="0.9" stroke-linejoin="round"/>
<path d="M854.80,68.60 H869.10" stroke="#3068ad" stroke-width="6.6" stroke-linecap="round"/>
<path d="M854.80,68.60 H869.10" stroke="#437fc9" stroke-width="4.6" stroke-linecap="round"/>
<path d="M862.10,61.82 L868.79,68.60 L862.10,75.38 L855.41,68.60 Z" fill="url(#gb)" stroke="#2c63a8" stroke-width="0.7"/>
<g transform="translate(871.60,75.90)" font-size="22.00" font-weight="bold"><text x="0.00" y="0" textLength="8.52" lengthAdjust="spacingAndGlyphs">r</text><text x="8.52" y="0" textLength="12.89" lengthAdjust="spacingAndGlyphs">h</text><text x="21.41" y="0" textLength="12.89" lengthAdjust="spacingAndGlyphs">o</text><text x="34.30" y="0" textLength="11.95" lengthAdjust="spacingAndGlyphs">+</text><path d="M47.95,3.30 L55.77,-17.60" stroke="#000" stroke-width="2.90" fill="none"/><text x="56.57" y="0" textLength="15.12" lengthAdjust="spacingAndGlyphs">D</text><text x="71.69" y="0" textLength="12.07" lengthAdjust="spacingAndGlyphs">e</text><text x="83.76" y="0" textLength="11.02" lengthAdjust="spacingAndGlyphs">x</text></g>
<path d="M854.80,94.80 H869.10" stroke="#b03030" stroke-width="6.6" stroke-linecap="round"/>
<path d="M854.80,94.80 H869.10" stroke="#ce4644" stroke-width="4.6" stroke-linecap="round"/>
<rect x="855.15" y="87.67" width="13.90" height="14.26" rx="0.8" fill="url(#gr)" stroke="#a82b2b" stroke-width="0.7"/>
<path d="M856.25,88.87 H867.95" stroke="#ea6461" stroke-opacity="0.85" stroke-width="1" fill="none"/>
<g transform="translate(871.60,101.80)" font-size="22.00" font-weight="bold"><text x="0.00" y="0" textLength="8.52" lengthAdjust="spacingAndGlyphs">r</text><text x="8.52" y="0" textLength="12.89" lengthAdjust="spacingAndGlyphs">h</text><text x="21.41" y="0" textLength="12.89" lengthAdjust="spacingAndGlyphs">o</text><text x="34.30" y="0" textLength="11.95" lengthAdjust="spacingAndGlyphs">+</text><path d="M47.95,3.30 L55.77,-17.60" stroke="#000" stroke-width="2.90" fill="none"/><text x="56.57" y="0" textLength="15.29" lengthAdjust="spacingAndGlyphs">G</text><text x="71.86" y="0" textLength="5.90" lengthAdjust="spacingAndGlyphs">l</text><text x="77.76" y="0" textLength="11.38" lengthAdjust="spacingAndGlyphs">y</text><text x="89.14" y="0" textLength="10.03" lengthAdjust="spacingAndGlyphs">c</text></g>
<path d="M854.80,121.00 H869.10" stroke="#86aa3d" stroke-width="6.6" stroke-linecap="round"/>
<path d="M854.80,121.00 H869.10" stroke="#9abc55" stroke-width="4.6" stroke-linecap="round"/>
<path d="M862.10,113.43 L869.14,127.78 L855.06,127.78 Z" fill="url(#gg)" stroke="#76982e" stroke-width="0.7"/>
<g transform="translate(871.60,127.80)" font-size="22.00" font-weight="bold"><text x="0.00" y="0" textLength="8.52" lengthAdjust="spacingAndGlyphs">r</text><text x="8.52" y="0" textLength="12.89" lengthAdjust="spacingAndGlyphs">h</text><text x="21.41" y="0" textLength="12.89" lengthAdjust="spacingAndGlyphs">o</text><text x="34.30" y="0" textLength="8.14" lengthAdjust="spacingAndGlyphs">°</text><path d="M44.13,3.30 L51.95,-17.60" stroke="#000" stroke-width="2.90" fill="none"/><text x="52.75" y="0" textLength="15.12" lengthAdjust="spacingAndGlyphs">D</text><text x="67.87" y="0" textLength="12.07" lengthAdjust="spacingAndGlyphs">e</text><text x="79.94" y="0" textLength="11.02" lengthAdjust="spacingAndGlyphs">x</text></g>
</g>
</svg>
</body></html>
